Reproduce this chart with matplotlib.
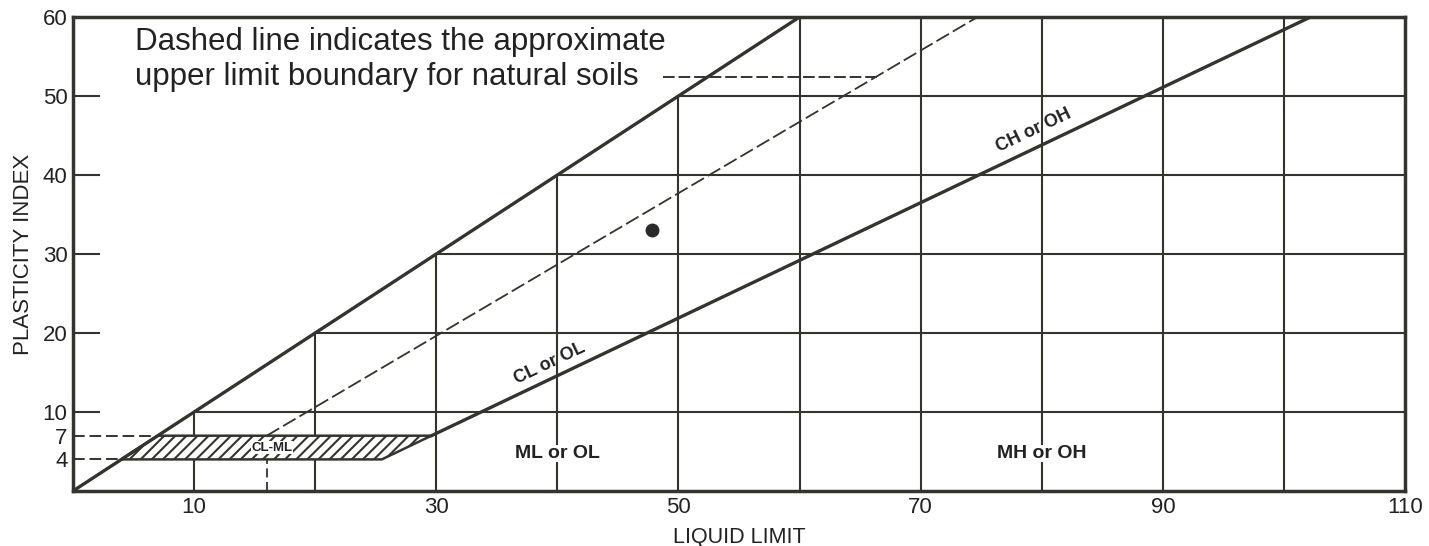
import matplotlib
matplotlib.use("Agg")
import matplotlib.pyplot as plt

plt.rcParams['font.family'] = ['Liberation Sans', 'DejaVu Sans']
plt.rcParams['hatch.linewidth'] = 1.5

# ---- data ----
x_ticks = [10, 30, 50, 70, 90, 110]
y_major_ticks = [10, 20, 30, 40, 50]
y_minor_ticks = [4, 7, 60]
grid_ll = [10, 20, 30, 40, 50, 60, 70, 80, 90, 100]   # vertical grid lines
grid_pi = [10, 20, 30, 40, 50]                         # horizontal grid lines

upper_line_ll = [0, 60]          # PI = LL boundary
upper_line_pi = [0, 60]
a_line_ll = [29.6, 102.2]        # A-line
a_line_pi = [7, 60]
u_line_ll = [16, 74.7]           # U-line (dashed)
u_line_pi = [7, 60]
u_stub_ll = [16, 16]
u_stub_pi = [0, 4]
hatch_ll = [4, 25.5, 29.6, 7]    # CL-ML zone
hatch_pi = [4, 4, 7, 7]
note_ll = [48.7, 66.4]
note_pi = [52.4, 52.4]

sample_ll = [47.8]
sample_pi = [33.0]

C = '#34342e'
T = '#222222'

fig = plt.figure(figsize=(14.29, 5.46), dpi=100)
ax = fig.add_axes([73/1429, 55/546, 1332/1429, 474/546])
ax.set_xlim(0, 110)
ax.set_ylim(0, 60)

# grid lines bounded by the PI = LL line
for v in grid_ll:
    ax.plot([v, v], [0, min(v, 60)], color=C, lw=1.5, zorder=1, solid_capstyle='butt')
for h in grid_pi:
    ax.plot([h, 110], [h, h], color=C, lw=1.5, zorder=1, solid_capstyle='butt')

# boundary lines
ax.plot(upper_line_ll, upper_line_pi, color=C, lw=2.4, zorder=5)
ax.plot(a_line_ll, a_line_pi, color=C, lw=2.4, zorder=5)
ax.plot(u_line_ll, u_line_pi, color=C, lw=1.3, ls=(0, (8, 2.5)), zorder=5)
ax.plot(u_stub_ll, u_stub_pi, color=C, lw=1.3, ls=(0, (5, 2.5)), zorder=2)
ax.plot([0, hatch_ll[3]], [hatch_pi[3], hatch_pi[3]], color=C, lw=1.4, ls=(0, (6, 2.5)), zorder=2)
ax.plot([0, hatch_ll[0]], [hatch_pi[0], hatch_pi[0]], color=C, lw=1.4, ls=(0, (6, 2.5)), zorder=2)
ax.plot(note_ll, note_pi, color=C, lw=1.4, ls=(0, (6, 2)), zorder=5)

# hatched CL-ML zone
ax.fill(hatch_ll, hatch_pi, facecolor='white', edgecolor=C, hatch='///', lw=1.8, zorder=3)
ax.text(16.4, 5.5, 'CL-ML', fontsize=9.5, fontweight='bold', color=T, ha='center', va='center',
        zorder=4, bbox=dict(facecolor='white', edgecolor='none', pad=0.3))

# sample point
ax.plot(sample_ll, sample_pi, 'o', ms=9, color='#2a2a2a', zorder=6)

# labels
ax.text(5.1, 56.8, 'Dashed line indicates the approximate', fontsize=22.5, color=T,
        ha='left', va='center')
ax.text(5.1, 52.4, 'upper limit boundary for natural soils', fontsize=22.5, color=T,
        ha='left', va='center')
ax.text(39.4, 16.2, 'CL or OL', fontsize=13, fontweight='bold', color=T, ha='center', va='center',
        rotation=36.1, transform_rotates_text=True, rotation_mode='anchor')
ax.text(79.3, 45.6, 'CH or OH', fontsize=13, fontweight='bold', color=T, ha='center', va='center',
        rotation=36.1, transform_rotates_text=True, rotation_mode='anchor')
ax.text(40, 4.8, 'ML or OL', fontsize=14, fontweight='bold', color=T, ha='center', va='center',
        bbox=dict(facecolor='white', edgecolor='none', pad=0.0))
ax.text(80, 4.8, 'MH or OH', fontsize=14, fontweight='bold', color=T, ha='center', va='center',
        bbox=dict(facecolor='white', edgecolor='none', pad=0.0))

# axes styling
for s in ax.spines.values():
    s.set_linewidth(2.5)
    s.set_color(C)
    s.set_zorder(7)

ax.set_xticks(x_ticks)
ax.set_xticklabels([str(v) for v in x_ticks])
ax.tick_params(axis='x', length=0, pad=4, labelsize=16, labelcolor=T)
ax.set_yticks(y_major_ticks)
ax.set_yticklabels([str(v) for v in y_major_ticks])
ax.set_yticks(y_minor_ticks, minor=True)
ax.set_yticklabels([str(v) for v in y_minor_ticks], minor=True)
ax.tick_params(axis='y', which='major', direction='in', length=19.5, width=1.5, color=C,
               pad=4, labelsize=16, labelcolor=T)
ax.tick_params(axis='y', which='minor', length=0, pad=4, labelsize=16, labelcolor=T)

ax.set_xlabel('LIQUID LIMIT', fontsize=15.5, color=T, labelpad=6.5)
ax.set_ylabel('PLASTICITY INDEX', fontsize=16, color=T, labelpad=6)

fig.savefig('out.png', dpi=100, facecolor='white')
